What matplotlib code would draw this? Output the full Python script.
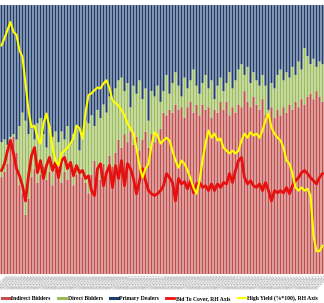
import numpy as np
import pandas as pd
import matplotlib
matplotlib.use('Agg')
import matplotlib.pyplot as plt

# auction shares, % of total (bottom to top of each bar)
indirect = [36, 38, 41, 50, 51, 45, 33, 30, 22, 28,
            36, 39, 34, 37, 40, 35, 38, 33, 39, 36,
            34, 38, 35, 40, 33, 37, 39, 36,
            34, 30, 37, 42, 39, 35, 41, 38, 44, 40, 45,
            50, 47, 52, 49, 53, 48, 51, 46, 50, 53, 47, 52, 49, 51, 54,
            60, 59, 61, 60, 63, 61, 62, 58, 62, 64, 60, 63, 59, 63, 61, 62, 58,
            61, 60, 64, 61, 64, 59, 62, 60, 63, 62,
            68, 64, 62, 66, 63, 61, 65, 59, 60, 62, 58, 61, 59, 62, 60, 63, 61,
            64, 62, 65, 63, 66, 67, 65, 68, 66, 64]
direct = [13, 12, 7, 1, 1, 5, 22, 30, 35, 24,
          18, 11, 22, 21, 12, 12, 17, 18, 14, 13,
          19, 12, 20, 8, 19, 17, 7, 15,
          23, 26, 22, 13, 22, 23, 22, 22, 22, 24, 24,
          22, 26, 16, 22, 9, 22, 16, 26, 15, 16, 10, 16, 17, 19, 10,
          8, 15, 6, 11, 12, 9, 4, 15, 7, 8, 16, 7, 8, 8, 13, 7, 14,
          4, 10, 9, 7, 7, 16, 7, 12, 13, 16,
          6, 13, 9, 9, 9, 9, 9, 11, 1, 9, 11, 13, 17, 10, 15, 10, 16,
          10, 17, 11, 21, 15, 11, 15, 9, 13, 14]

# right-hand axis series
bid_to_cover = [2.31, 2.46, 2.75, 2.98, 2.69, 2.35, 2.19, 1.97, 1.63, 2.19,
                2.64, 2.82, 2.26, 2.53, 2.13, 2.42, 2.60, 2.31, 2.49, 2.15,
                2.53, 2.60, 2.35, 2.49, 2.19, 2.42, 2.26, 2.31,
                2.13, 2.19, 1.86, 1.75, 2.35, 2.46, 1.97, 2.26, 2.42, 1.93, 2.42,
                2.13, 2.53, 1.97, 2.46, 2.35, 2.13, 1.79, 2.08, 2.35, 2.08, 1.86,
                1.79, 1.75, 1.79, 1.86,
                1.97, 2.24, 2.15, 2.04, 1.63, 2.13, 2.01, 2.06, 1.90, 2.08,
                1.81, 2.01, 2.04, 1.93, 1.97, 1.86, 2.01, 1.86, 2.01, 1.93,
                2.04, 2.01, 2.24, 2.04, 2.31, 2.53, 2.60,
                2.15, 2.01, 2.08, 1.97, 1.93, 2.01, 1.86, 2.04, 1.86, 1.63,
                1.86, 1.81, 1.86, 1.81, 1.93, 1.79, 1.97, 2.08, 2.15, 2.26,
                2.31, 2.24, 2.15, 2.08, 2.01, 2.15, 2.24]
high_yield = [5.10, 5.26, 5.44, 5.62, 5.40, 5.33, 4.99, 4.84, 4.25, 3.65,
              3.27, 3.31, 3.04, 2.91, 3.36, 3.58, 3.27, 2.82, 2.53, 2.42,
              2.69, 2.75, 2.82, 2.91, 3.04, 3.31, 3.25, 3.02,
              3.60, 3.99, 4.03, 4.10, 4.16, 4.14, 4.25, 4.32, 4.14, 3.87, 3.81,
              3.76, 3.65, 3.54, 3.36, 3.25, 3.13, 2.80, 2.42, 2.15, 2.35, 2.46,
              2.87, 3.16, 3.09, 2.91,
              2.98, 3.04, 2.98, 2.75, 2.53, 2.37, 2.53, 2.46, 2.31, 2.13,
              1.93, 1.79, 2.08, 2.53, 2.91, 3.20, 3.04, 3.13, 2.98, 3.02,
              2.82, 2.75, 2.69, 2.75, 2.69, 2.75, 2.98,
              3.13, 3.04, 3.16, 3.09, 3.13, 3.04, 3.20, 3.43, 3.58, 3.27,
              3.13, 3.04, 2.98, 2.82, 2.53, 2.46, 2.24, 1.93, 1.86, 1.93,
              1.86, 1.90, 1.75, 0.85, 0.51, 0.51, 0.63]

# auction dates (axis labels are illegible in the source, monthly assumed)
auction_dates = [d.strftime('%m/%d/%Y') for d in
                 pd.date_range('2003-08-01', periods=len(indirect), freq='MS')]

indirect = np.array(indirect, dtype=float)
direct = np.array(direct, dtype=float)
dealers = 100 - indirect - direct
x = np.arange(len(indirect))

fig = plt.figure(figsize=(3.24, 3.03), dpi=100)
ax = fig.add_axes([0, 1 - 274 / 303, 1, 269 / 303])
w = 0.7
kw = dict(linewidth=0, snap=False)
ax.bar(x, indirect, w, color='#C0504D', label='Indirect Bidders', **kw)
ax.bar(x, direct, w, bottom=indirect, color='#9BBB59', label='Direct Bidders', **kw)
ax.bar(x, dealers, w, bottom=indirect + direct, color='#1F3D6B', label='Primary Dealers', **kw)
ax.set_xlim(-0.5, len(x) - 0.5)
ax.set_ylim(0, 100)
ax.set_yticks([])
ax.set_xticks(x)
ax.set_xticklabels(auction_dates, rotation=45, ha='center', fontsize=2.3, color='#909090')
ax.tick_params(axis='x', length=0, pad=0.5)
for s in ax.spines.values():
    s.set_visible(False)

ax2 = ax.twinx()
ax2.plot(x, bid_to_cover, color='#E8100F', lw=2.0, label='Bid To Cover, RH Axis')
ax2.plot(x, high_yield, color='#FFFF00', lw=1.5, label='High Yield (%*100), RH Axis')
ax2.set_ylim(0, 6)
ax2.set_yticks([])
for s in ax2.spines.values():
    s.set_visible(False)

l1 = ['Indirect Bidders', 'Direct Bidders', 'Primary Dealers']
h2, l2 = ax2.get_legend_handles_labels()
handles = [plt.Line2D([], [], color=c, lw=2.2) for c in ['#C0504D', '#9BBB59', '#1F3D6B']] + h2
fig.legend(handles, l1 + l2, loc='lower left', bbox_to_anchor=(0.0, 0.0), ncol=5,
           frameon=False, handlelength=1.4, handletextpad=0.3, columnspacing=1.25,
           borderpad=0.3, borderaxespad=0.0,
           prop={'family': 'Liberation Serif', 'size': 4.1, 'weight': 'bold'})

fig.savefig('out.png', dpi=100)
